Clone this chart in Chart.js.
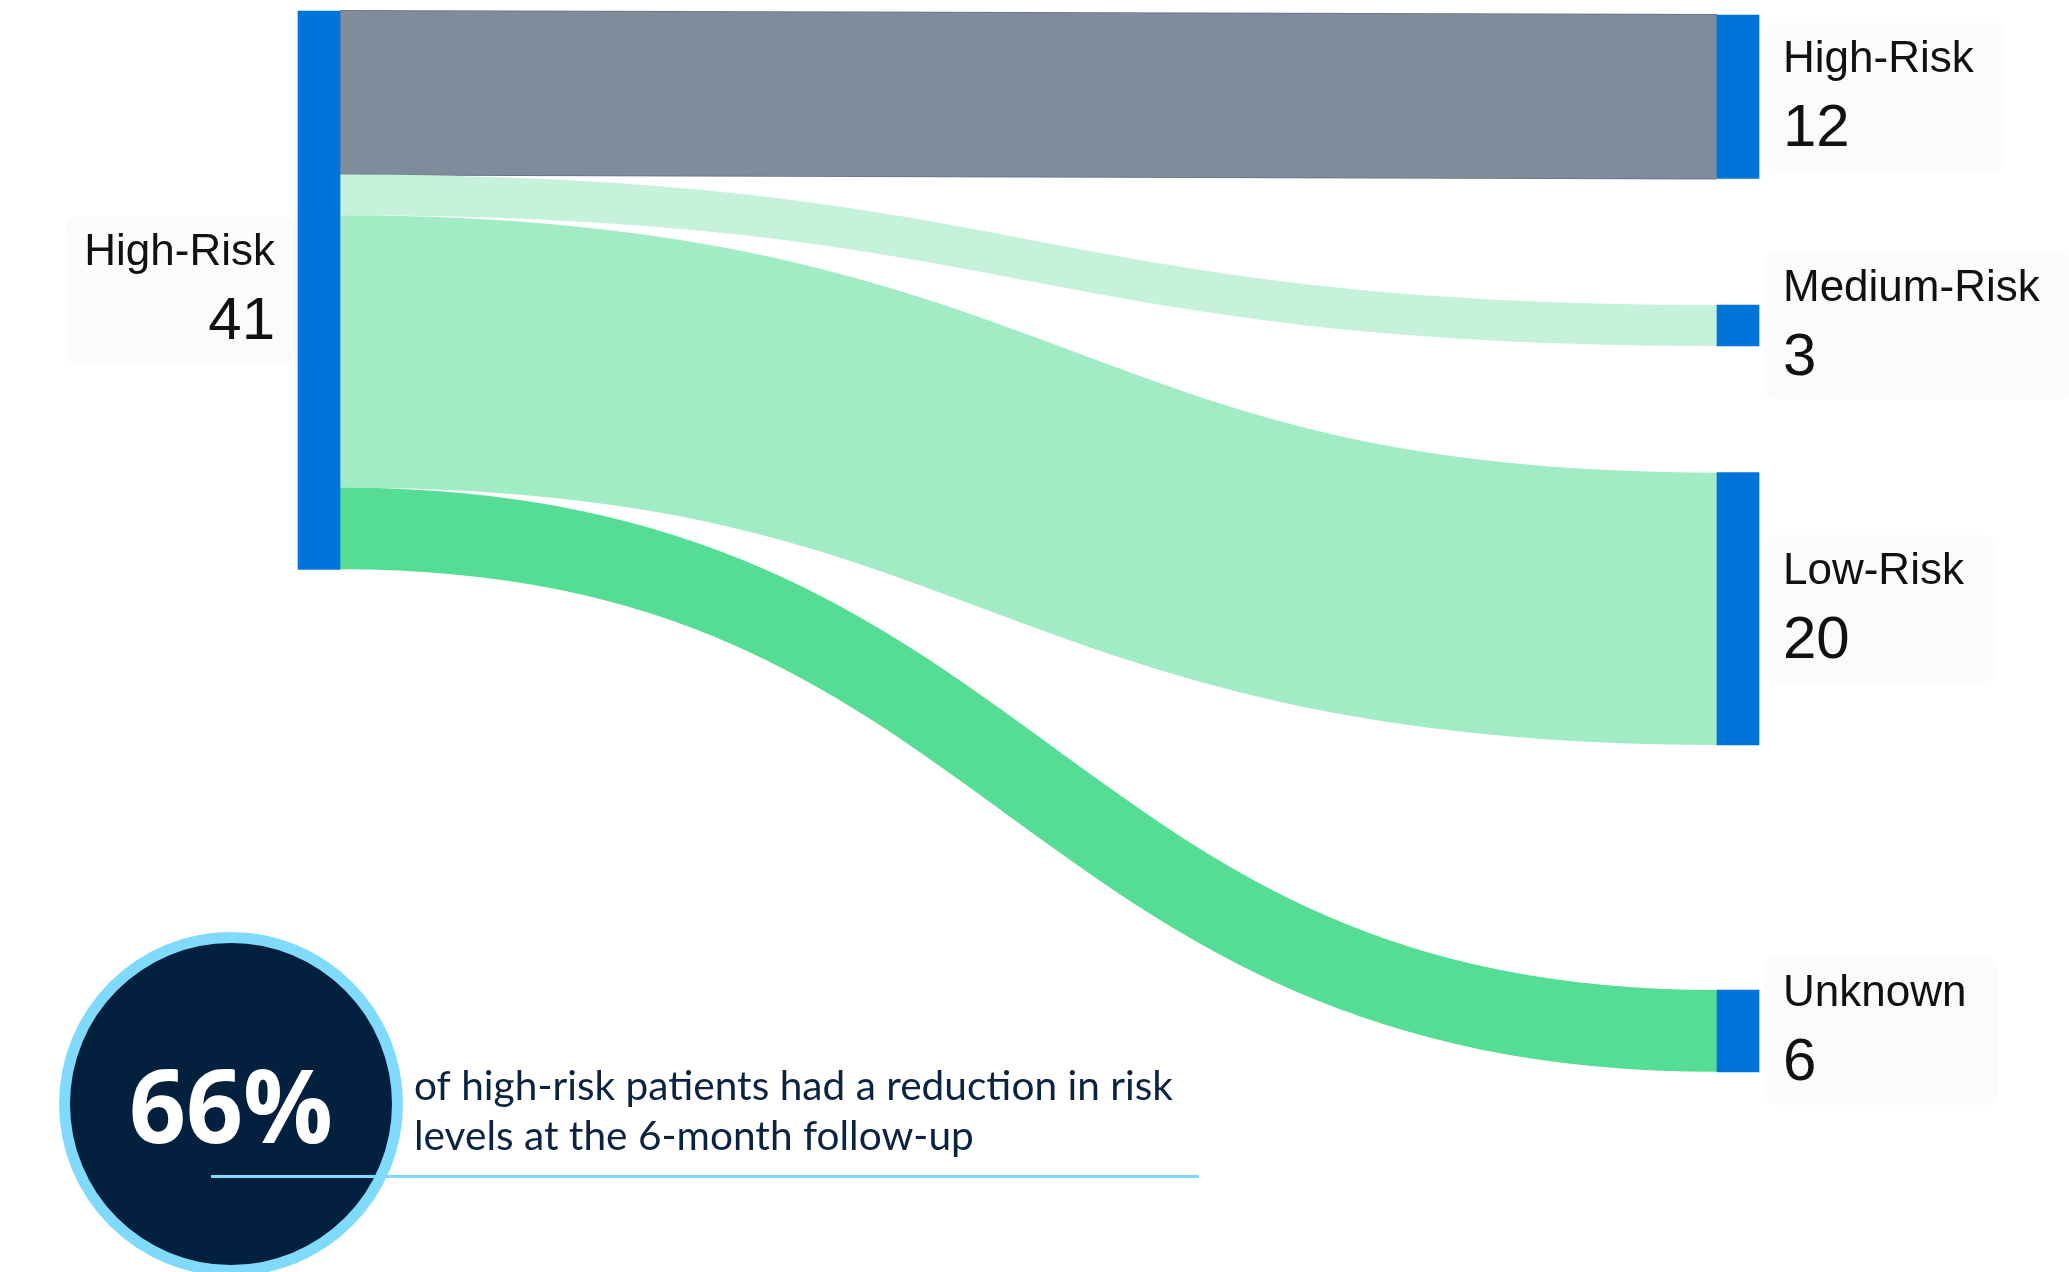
<!DOCTYPE html>
<html>
<head>
<meta charset="utf-8">
<script src="https://cdn.jsdelivr.net/npm/chart.js@4.4.1/dist/chart.umd.min.js"></script>
<style>
	html, body { margin: 0; padding: 0; background: #ffffff; overflow: hidden; }
	#wrap { position: relative; width: 2069px; height: 1272px; }
</style>
</head>
<body>
<div id="wrap"><canvas id="sankey"></canvas></div>
<script>
// data: flows from the baseline risk group to the 6-month follow-up groups
const sourceName = "High-Risk";
const targetNames = ["High-Risk", "Medium-Risk", "Low-Risk", "Unknown"];
const flowValues = [12, 3, 20, 6];
const calloutValue = "66%";
const calloutLines = ["of high-risk patients had a reduction in risk", "levels at the 6-month follow-up"];

// layout, in patient units: empty space above each target node
const targetGaps = [0.3, 9.3, 9.3, 18];

const NODE_COLOR = "#0074d9";
const NODE_WIDTH = 42;
const LINK_COLORS = ["#7f8c9b", "#c6f2dc", "#a1ebc5", "#55dd96"];
const LABEL_FONT = "'Liberation Sans', Arial, sans-serif";
const NAVY = "#03203f";
const SKY = "#80dafc";

const sourceTotal = flowValues.reduce((a, b) => a + b, 0);

const targetNodes = [];
let cursor = 0;
flowValues.forEach((v, i) => {
	cursor += targetGaps[i];
	targetNodes.push({ start: cursor, end: cursor + v });
	cursor += v;
});

const nodeData = [{ x: 0, y: [0, sourceTotal] }].concat(
	targetNodes.map((n) => ({ x: 1, y: [n.start, n.end] }))
);
const nodeNames = [sourceName].concat(targetNames);
const nodeValues = [sourceTotal].concat(flowValues);

function unitPx(scale) {
	return Math.abs(scale.getPixelForValue(1) - scale.getPixelForValue(0));
}

const linkPlugin = {
	id: "sankeyLinks",
	beforeDatasetsDraw(chart) {
		const { ctx, scales } = chart;
		const x0 = scales.x.getPixelForValue(0) + NODE_WIDTH / 2;
		const x1 = scales.x.getPixelForValue(1) - NODE_WIDTH / 2;
		const mx = (x0 + x1) / 2;
		const k = unitPx(scales.y);
		let offset = 0;
		ctx.save();
		ctx.lineCap = "butt";
		flowValues.forEach((v, i) => {
			const ya = scales.y.getPixelForValue(offset + v / 2);
			const yb = scales.y.getPixelForValue(targetNodes[i].start + v / 2);
			ctx.beginPath();
			ctx.moveTo(x0, ya);
			ctx.bezierCurveTo(mx, ya, mx, yb, x1, yb);
			if (i === 0) {
				ctx.strokeStyle = "#6c7887";
				ctx.lineWidth = v * k + 2;
				ctx.stroke();
			}
			ctx.strokeStyle = LINK_COLORS[i];
			ctx.lineWidth = v * k;
			ctx.stroke();
			offset += v;
		});
		ctx.restore();
	},
};

const labelPlugin = {
	id: "nodeLabels",
	afterDatasetsDraw(chart) {
		const { ctx, scales } = chart;
		ctx.save();
		nodeData.forEach((d, i) => {
			const cx = scales.x.getPixelForValue(d.x);
			const cy = (scales.y.getPixelForValue(d.y[0]) + scales.y.getPixelForValue(d.y[1])) / 2;
			const name = nodeNames[i];
			const value = String(nodeValues[i]);
			ctx.font = `44px ${LABEL_FONT}`;
			const wName = ctx.measureText(name).width;
			ctx.font = `60px ${LABEL_FONT}`;
			const wVal = ctx.measureText(value).width;
			const w = Math.max(wName, wVal);
			const left = d.x === 0;
			let textX, boxX, boxW;
			if (left) {
				textX = cx - NODE_WIDTH / 2 - 23;
				boxX = textX - w - 19;
				boxW = cx - NODE_WIDTH / 2 - 3 - boxX;
			} else {
				textX = cx + NODE_WIDTH / 2 + 24;
				boxX = cx + NODE_WIDTH / 2 + 6;
				boxW = textX + w + 31 - boxX;
			}
			ctx.fillStyle = "#fbfbfb";
			ctx.beginPath();
			ctx.roundRect(boxX, cy - 74, boxW, 148, 12);
			ctx.fill();

			ctx.fillStyle = "#111111";
			ctx.textAlign = left ? "right" : "left";
			ctx.textBaseline = "alphabetic";
			ctx.font = `44px ${LABEL_FONT}`;
			ctx.fillText(name, textX, cy - 25);
			ctx.font = `60px ${LABEL_FONT}`;
			ctx.fillText(value, textX, cy + 49);
		});
		ctx.restore();
	},
};

function fitText(ctx, text, x, y, targetWidth) {
	const w = ctx.measureText(text).width;
	const sx = targetWidth / w;
	ctx.save();
	ctx.translate(x, y);
	ctx.scale(sx, 1);
	ctx.fillText(text, 0, 0);
	ctx.restore();
}

const calloutPlugin = {
	id: "callout",
	afterDraw(chart) {
		const { ctx } = chart;
		const cx = 231;
		const cy = 1104;
		ctx.save();
		ctx.fillStyle = SKY;
		ctx.beginPath();
		ctx.arc(cx, cy, 172, 0, Math.PI * 2);
		ctx.fill();
		ctx.fillStyle = NAVY;
		ctx.beginPath();
		ctx.arc(cx, cy, 161, 0, Math.PI * 2);
		ctx.fill();

		ctx.fillStyle = "#ffffff";
		ctx.textAlign = "left";
		ctx.textBaseline = "alphabetic";
		ctx.font = "700 102px 'Open Sans', sans-serif";
		fitText(ctx, calloutValue, 129, 1143, 204);

		ctx.strokeStyle = SKY;
		ctx.lineWidth = 3;
		ctx.beginPath();
		ctx.moveTo(211, 1176.5);
		ctx.lineTo(1199, 1176.5);
		ctx.stroke();

		ctx.fillStyle = "#0a2342";
		ctx.font = "400 41px Lato, sans-serif";
		fitText(ctx, calloutLines[0], 414, 1100, 759);
		const ratio = 759 / ctx.measureText(calloutLines[0]).width;
		fitText(ctx, calloutLines[1], 414, 1150, ctx.measureText(calloutLines[1]).width * ratio);
		ctx.restore();
	},
};

new Chart(document.getElementById("sankey").getContext("2d"), {
	type: "bar",
	data: {
		datasets: [
			{
				label: "Patients",
				data: nodeData,
				backgroundColor: NODE_COLOR,
				borderWidth: 0,
				barThickness: NODE_WIDTH,
				clip: false,
			},
		],
	},
	options: {
		animation: false,
		responsive: true,
		maintainAspectRatio: false,
		layout: { padding: { left: 319, right: 331, top: 11, bottom: 0 } },
		scales: {
			x: { type: "linear", min: 0, max: 1, offset: false, display: false },
			y: { type: "linear", min: 0, max: 92.6, reverse: true, display: false },
		},
		plugins: {
			legend: { display: false },
			tooltip: { enabled: false },
		},
	},
	plugins: [linkPlugin, labelPlugin, calloutPlugin],
});
</script>
</body>
</html>
